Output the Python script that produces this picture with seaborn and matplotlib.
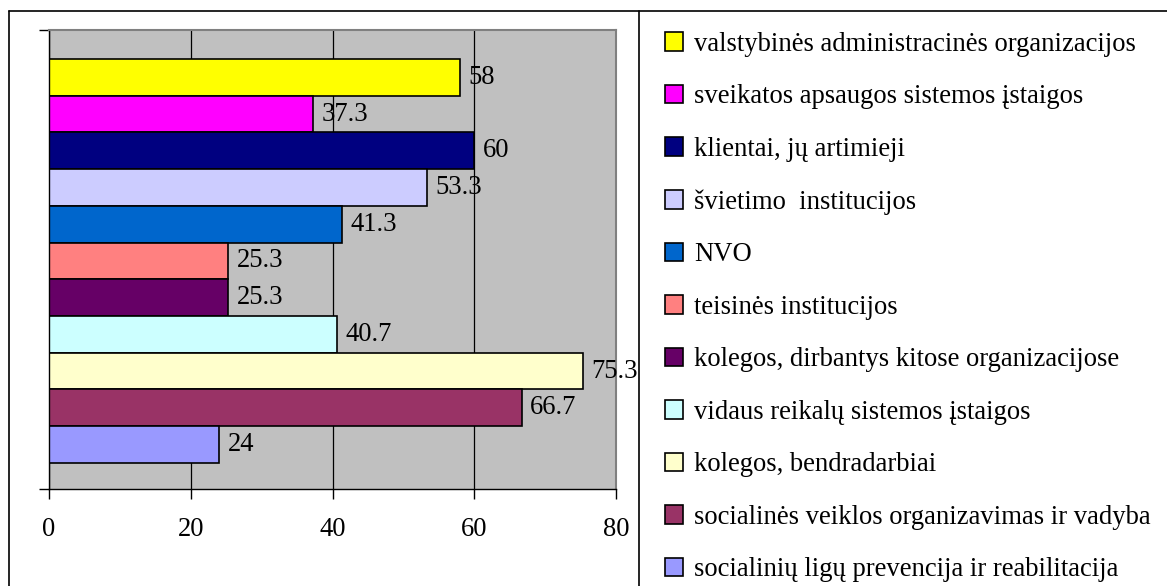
import pandas as pd
import seaborn as sns
import matplotlib.pyplot as plt
from matplotlib.patches import Patch
from matplotlib.lines import Line2D

# Series (one bar per series, top to bottom)
labels = [
    'valstybinės administracinės organizacijos',
    'sveikatos apsaugos sistemos įstaigos',
    'klientai, jų artimieji',
    'švietimo  institucijos',
    'NVO',
    'teisinės institucijos',
    'kolegos, dirbantys kitose organizacijose',
    'vidaus reikalų sistemos įstaigos',
    'kolegos, bendradarbiai',
    'socialinės veiklos organizavimas ir vadyba',
    'socialinių ligų prevencija ir reabilitacija',
]
values = [58, 37.3, 60, 53.3, 41.3, 25.3, 25.3, 40.7, 75.3, 66.7, 24]
colors = ['#FFFF00', '#FF00FF', '#000080', '#CCCCFF', '#0066CC', '#FF8080',
          '#660066', '#CCFFFF', '#FFFFCC', '#993366', '#9999FF']
x_ticks = [0, 20, 40, 60, 80]

df = pd.DataFrame({'label': labels, 'value': values})

sns.set_theme(style='white')
plt.rcParams['font.family'] = ['Liberation Serif', 'DejaVu Serif']
plt.rcParams['text.color'] = 'black'
plt.rcParams['xtick.color'] = 'black'
plt.rcParams['ytick.color'] = 'black'
FS = 19.2

W, H = 1167, 586
fig = plt.figure(figsize=(W / 100, H / 100), dpi=100)
ax = fig.add_axes([49 / W, 1 - 489 / H, (616 - 49) / W, (489 - 30) / H])

sns.barplot(data=df, x='value', y='label', hue='label', order=labels,
            hue_order=labels, palette=colors, saturation=1, dodge=False, width=1.0,
            edgecolor='black', linewidth=1.2, legend=False, ax=ax)

for c in ax.containers:
    ax.bar_label(c, fmt='%g', padding=6, fontsize=FS, color='black')

ylo, yhi = 11.21, -1.29
ax.set_ylim(ylo, yhi)
ax.set_yticks([ylo, yhi])
ax.set_yticklabels(['', ''])
ax.set_xlim(0, 80)
ax.set_xticks(x_ticks)
ax.set_xticklabels([str(t) for t in x_ticks], fontsize=FS)
ax.set_xlabel('')
ax.set_ylabel('')
ax.tick_params(axis='both', direction='out', length=7, width=1, color='black',
               labelcolor='black', bottom=True, left=True)
ax.tick_params(axis='x', pad=13)

ax.set_facecolor('#C0C0C0')
ax.grid(axis='x', color='black', linewidth=0.9)
ax.grid(axis='y', visible=False)
ax.set_axisbelow(True)
for side in ['left', 'bottom']:
    ax.spines[side].set_color('black')
    ax.spines[side].set_linewidth(1)
for side in ['top', 'right']:
    ax.spines[side].set_color('#808080')
    ax.spines[side].set_linewidth(1.5)

# Legend
handles = [Patch(facecolor=col, edgecolor='black', linewidth=1.2) for col in colors]
fig.legend(handles, labels, loc='upper left', bbox_to_anchor=(665 / W, 1 - 32 / H),
           frameon=False, fontsize=FS, handlelength=0.68, handleheight=0.68,
           handletextpad=0.4, labelspacing=1.03, borderpad=0, borderaxespad=0,
           labelcolor='black')

# Chart and legend borders
fig.add_artist(Line2D([9 / W, 1], [1 - 11 / H, 1 - 11 / H], color='black', lw=1.2))
fig.add_artist(Line2D([9 / W, 9 / W], [0, 1 - 11 / H], color='black', lw=1.2))
fig.add_artist(Line2D([639 / W, 639 / W], [0, 1 - 11 / H], color='black', lw=1.2))

fig.savefig('out.png', dpi=100)
